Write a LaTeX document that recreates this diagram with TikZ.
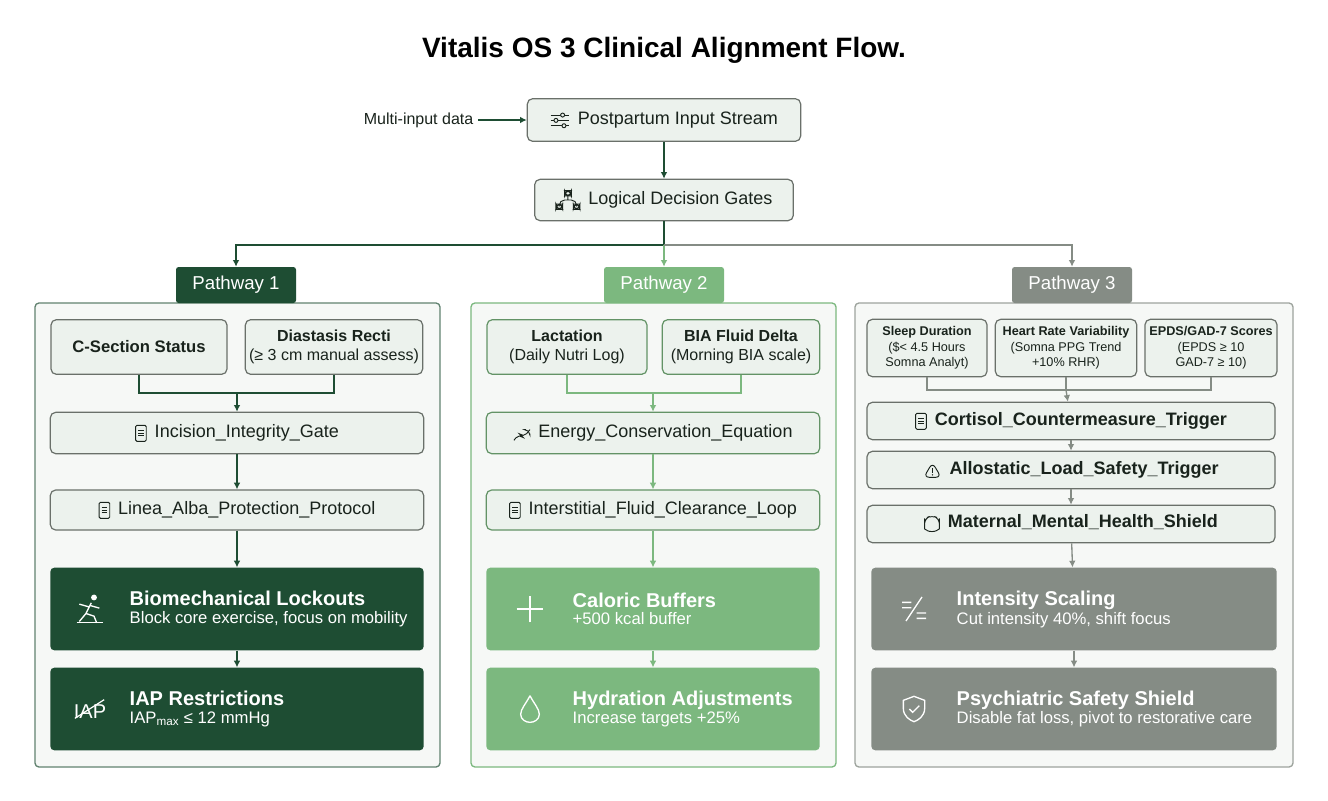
\documentclass[tikz,border=0pt]{standalone}
\usepackage{fontspec}
\setmainfont{Liberation Sans}
\usetikzlibrary{positioning,calc,arrows.meta}
\definecolor{pdark}{RGB}{30,77,51}
\definecolor{plight}{RGB}{124,184,127}
\definecolor{pgray}{RGB}{133,140,133}
\definecolor{boxfill}{RGB}{236,242,237}
\definecolor{panelfill}{RGB}{246,248,246}
\definecolor{ink}{RGB}{25,35,28}
\tikzset{
    panel/.style={draw=#1, line width=1pt, fill=panelfill, rounded corners=3pt},
    tab/.style={fill=#1, rounded corners=2pt, minimum width=90pt, minimum height=27pt, text=white, font=\fontsize{14}{16}\selectfont},
    inbox/.style={draw=#1!80!black, line width=0.9pt, fill=boxfill, rounded corners=4pt, align=center, text=ink, inner sep=2pt},
    bigbox/.style={fill=#1, rounded corners=3pt},
    line/.style={draw=#1, line width=1pt, -{Latex[length=5pt,width=5pt]}},
    plain/.style={draw=#1, line width=1pt},
    small/.style={font=\fontsize{12}{14}\selectfont},
    tiny/.style={font=\fontsize{9.5}{11.5}\selectfont},
    gatefont/.style={font=\fontsize{13.5}{15}\selectfont}
}
\newcommand{\docicon}{\tikz[x=1pt,y=1pt,baseline=-3pt,line width=0.7pt]{\draw[rounded corners=1pt] (-4,-6) rectangle (4,6); \draw (-2,2)--(2,2) (-2,0)--(2,0) (-2,-2)--(2,-2);}}
\newcommand{\chartic}{\tikz[x=1pt,y=1pt,baseline=-3pt,line width=0.7pt]{\draw (-6,-5)--(-2,0)--(1,-3)--(6,3); \draw (3,3)--(6,3)--(6,0);}}
\newcommand{\warnic}{\tikz[x=1pt,y=1pt,baseline=-3pt,line width=0.7pt]{\draw[line join=round] (0,6)--(6.5,-5)--(-6.5,-5)--cycle; \draw (0,2)--(0,-1.5); \fill (0,-3.2) circle (0.6);}}
\newcommand{\shieldic}[1][0.7pt]{\tikz[x=1pt,y=1pt,baseline=-3pt,line width=#1]{\draw (0,6)--(5.5,4)--(5.5,0) .. controls (5.5,-4) and (2,-6) .. (0,-7) .. controls (-2,-6) and (-5.5,-4) .. (-5.5,0)--(-5.5,4)--cycle;}}
\newcommand{\slidic}{\tikz[x=1pt,y=1pt,baseline=-3pt,line width=0.7pt]{\draw (-7,4)--(7,4) (-7,0)--(7,0) (-7,-4)--(7,-4); \draw[fill=boxfill] (2,4) circle (1.5) (-3,0) circle (1.5) (3,-4) circle (1.5);}}
\newcommand{\treeic}{\tikz[x=1pt,y=1pt,baseline=-3pt,line width=0.7pt]{\draw (-2.5,3) rectangle (2.5,7) (-9,-7) rectangle (-4,-3) (4,-7) rectangle (9,-3); \draw (0,3)--(0,0) (-6.5,-3)--(-6.5,0)--(6.5,0)--(6.5,-3);}}

\begin{document}
\begin{tikzpicture}[x=0.75pt,y=-0.75pt]
    \useasboundingbox (0,0) rectangle (1328,800);
    \fill[white] (0,0) rectangle (1328,800);

    % Title and entry
    \node[font=\fontsize{21}{24}\selectfont\bfseries, text=black] (title) at (664,50) {Vitalis OS 3 Clinical Alignment Flow.};
    \node[inbox=pgray, gatefont, minimum width=205pt, minimum height=32pt] (input) at (664,120) {\slidic\hspace{6pt}Postpartum Input Stream};
    \node[small, text=ink, anchor=east] (multi) at (478,120) {Multi-input data};
    \node[inbox=pgray, gatefont, minimum width=194pt, minimum height=31pt] (gates) at (664,200) {\treeic\hspace{6pt}Logical Decision Gates};
    \path[line=pdark] (multi) -- (input);
    \path[line=pdark] (input) -- (gates);

    % Panels and tabs
    \draw[panel=pdark!70] (35,303) rectangle (440,767);
    \draw[panel=plight] (471,303) rectangle (836,767);
    \draw[panel=pgray!80] (855,303) rectangle (1293,767);
    \node[tab=pdark] (tab1) at (236,285) {Pathway 1};
    \node[tab=plight] (tab2) at (664,285) {Pathway 2};
    \node[tab=pgray] (tab3) at (1072,285) {Pathway 3};

    % Branching
    \coordinate (split) at (664,245);
    \coordinate (split1) at (236,245);
    \coordinate (split3) at (1072,245);
    \path[plain=pdark] (gates) -- (split);
    \path[line=pdark] (split) -- (split1) -- (tab1);
    \path[line=plight] (split) -- (tab2);
    \path[line=pgray] (split) -- (split3) -- (tab3);

    % Pathway 1
    \node[inbox=pgray, font=\fontsize{12.5}{14}\selectfont\bfseries, minimum width=132pt, minimum height=41pt] (csec) at (139,347) {C-Section Status};
    \node[inbox=pgray, small, minimum width=133pt, minimum height=41pt] (diast) at (334,347) {\textbf{Diastasis Recti}\\(≥ 3 cm manual assess)};
    \node[inbox=pgray, gatefont, minimum width=280pt, minimum height=31pt] (incis) at (237,433) {\docicon\hspace{6pt}Incision\_Integrity\_Gate};
    \node[inbox=pgray, gatefont, minimum width=280pt, minimum height=30pt] (linea) at (237,510) {\docicon\hspace{6pt}Linea\_Alba\_Protection\_Protocol};
    \node[bigbox=pdark, minimum width=280pt, minimum height=62pt] (biomech) at (237,609) {};
    \node[bigbox=pdark, minimum width=280pt, minimum height=62pt] (iap) at (237,709) {};
    \coordinate (m1) at (237,393);
    \path[plain=pdark] (csec) |- (m1);
    \path[plain=pdark] (diast) |- (m1);
    \path[line=pdark] (m1) -- (incis);
    \path[line=pdark] (incis) -- (linea);
    \path[line=pdark] (linea) -- (biomech);
    \path[line=pdark] (biomech) -- (iap);
    \node[anchor=west, text=white, align=left] (biomecht) at (125,609) {{\fontsize{15}{18}\selectfont\bfseries Biomechanical Lockouts}\\[1pt]{\fontsize{12.5}{14}\selectfont Block core exercise, focus on mobility}};
    \node[anchor=west, text=white, align=left] (iapt) at (125,709) {{\fontsize{15}{18}\selectfont\bfseries IAP Restrictions}\\[1pt]{\fontsize{12.5}{14}\selectfont IAP\textsubscript{max} ≤ 12 mmHg}};
    \node[text=white, font=\fontsize{15}{18}\selectfont] (biomechi) at (90,609) {\tikz[x=1pt,y=1pt,line width=1pt,white]{\fill (3,9) circle (2.2); \draw (1,5)--(-3,-3)--(-8,-9) (-3,-3)--(3,-5)--(5,-10) (0,3)--(7,1) (-1,2)--(-8,4); \draw (-10,-10)--(10,-10);}};
    \node[text=white, font=\fontsize{15}{18}\selectfont] (iapi) at (90,709) {IAP\llap{\tikz[x=1pt,y=1pt,line width=0.9pt,white]{\draw (0,0)--(22,14);}\hspace{1pt}}};

    % Pathway 2
    \node[inbox=plight, small, minimum width=120pt, minimum height=41pt] (lact) at (567,347) {\textbf{Lactation}\\(Daily Nutri Log)};
    \node[inbox=plight, small, minimum width=118pt, minimum height=41pt] (bia) at (741,347) {\textbf{BIA Fluid Delta}\\(Morning BIA scale)};
    \node[inbox=plight, gatefont, minimum width=250pt, minimum height=31pt] (energy) at (653,433) {\chartic\hspace{6pt}Energy\_Conservation\_Equation};
    \node[inbox=plight, gatefont, minimum width=250pt, minimum height=30pt] (inter) at (653,510) {\docicon\hspace{6pt}Interstitial\_Fluid\_Clearance\_Loop};
    \node[bigbox=plight, minimum width=250pt, minimum height=62pt] (caloric) at (653,609) {};
    \node[bigbox=plight, minimum width=250pt, minimum height=62pt] (hydra) at (653,709) {};
    \coordinate (m2) at (653,393);
    \path[plain=plight] (lact) |- (m2);
    \path[plain=plight] (bia) |- (m2);
    \path[line=plight] (m2) -- (energy);
    \path[line=plight] (energy) -- (inter);
    \path[line=plight] (inter) -- (caloric);
    \path[line=plight] (caloric) -- (hydra);
    \node[anchor=west, text=white, align=left] (calorict) at (568,609) {{\fontsize{15}{18}\selectfont\bfseries Caloric Buffers}\\[1pt]{\fontsize{12.5}{14}\selectfont +500 kcal buffer}};
    \node[anchor=west, text=white, align=left] (hydrat) at (568,709) {{\fontsize{15}{18}\selectfont\bfseries Hydration Adjustments}\\[1pt]{\fontsize{12.5}{14}\selectfont Increase targets +25\%}};
    \node (calorici) at (530,609) {\tikz[x=1pt,y=1pt,line width=1pt,white]{\draw (-10,0)--(10,0) (0,-10)--(0,10);}};
    \node (hydrai) at (530,709) {\tikz[x=1pt,y=1pt,line width=1pt,white]{\draw (0,10) .. controls (-3,4) and (-7,0) .. (-7,-4) .. controls (-7,-8) and (-3,-10) .. (0,-10) .. controls (3,-10) and (7,-8) .. (7,-4) .. controls (7,0) and (3,4) .. (0,10);}};

    % Pathway 3
    \node[inbox=pgray, tiny, minimum width=90pt, minimum height=43pt] (sleep) at (927,348) {\textbf{Sleep Duration}\\(\$< 4.5 Hours\\Somna Analyt)};
    \node[inbox=pgray, tiny, minimum width=106pt, minimum height=43pt] (hrv) at (1066,348) {\textbf{Heart Rate Variability}\\(Somna PPG Trend\\+10\% RHR)};
    \node[inbox=pgray, tiny, minimum width=99pt, minimum height=43pt] (epds) at (1211,348) {\textbf{EPDS/GAD-7 Scores}\\(EPDS ≥ 10\\GAD-7 ≥ 10)};
    \node[inbox=pgray, font=\fontsize{13.5}{15}\selectfont\bfseries, minimum width=306pt, minimum height=28pt] (cort) at (1071,421) {\docicon\hspace{6pt}Cortisol\_Countermeasure\_Trigger};
    \node[inbox=pgray, font=\fontsize{13.5}{15}\selectfont\bfseries, minimum width=306pt, minimum height=28pt] (allo) at (1071,470) {\warnic\hspace{6pt}Allostatic\_Load\_Safety\_Trigger};
    \node[inbox=pgray, font=\fontsize{13.5}{15}\selectfont\bfseries, minimum width=306pt, minimum height=28pt] (mmh) at (1071,524) {\shieldic\hspace{6pt}Maternal\_Mental\_Health\_Shield};
    \node[bigbox=pgray, minimum width=304pt, minimum height=62pt] (inten) at (1074,609) {};
    \node[bigbox=pgray, minimum width=304pt, minimum height=62pt] (psych) at (1074,709) {};
    \coordinate (m3) at (1066,390);
    \path[plain=pgray] (sleep) |- (m3);
    \path[plain=pgray] (epds) |- (m3);
    \path[plain=pgray] (hrv) -- (m3);
    \path[line=pgray] (m3) -- (cort);
    \path[line=pgray] (cort) -- (allo);
    \path[line=pgray] (allo) -- (mmh);
    \path[line=pgray] (mmh) -- (inten);
    \path[line=pgray] (inten) -- (psych);
    \node[anchor=west, text=white, align=left] (intent) at (952,609) {{\fontsize{15}{18}\selectfont\bfseries Intensity Scaling}\\[1pt]{\fontsize{12.5}{14}\selectfont Cut intensity 40\%, shift focus}};
    \node[anchor=west, text=white, align=left] (psycht) at (952,709) {{\fontsize{15}{18}\selectfont\bfseries Psychiatric Safety Shield}\\[1pt]{\fontsize{12.5}{14}\selectfont Disable fat loss, pivot to restorative care}};
    \node (inteni) at (914,609) {\tikz[x=1pt,y=1pt,line width=1pt,white]{\draw (-9,5)--(-2,5) (-9,1)--(-2,1) (2,-3)--(9,-3) (2,-7)--(9,-7) (-6,-9)--(6,9);}};
    \node[text=white] (psychi) at (914,709) {\tikz[x=1pt,y=1pt,white]{\draw[line width=1pt] (0,9)--(8,6)--(8,0) .. controls (8,-6) and (3,-9) .. (0,-10) .. controls (-3,-9) and (-8,-6) .. (-8,0)--(-8,6)--cycle; \draw[line width=1pt] (-3.5,-0.5)--(-1,-3)--(4,2);}};
\end{tikzpicture}
\end{document}
